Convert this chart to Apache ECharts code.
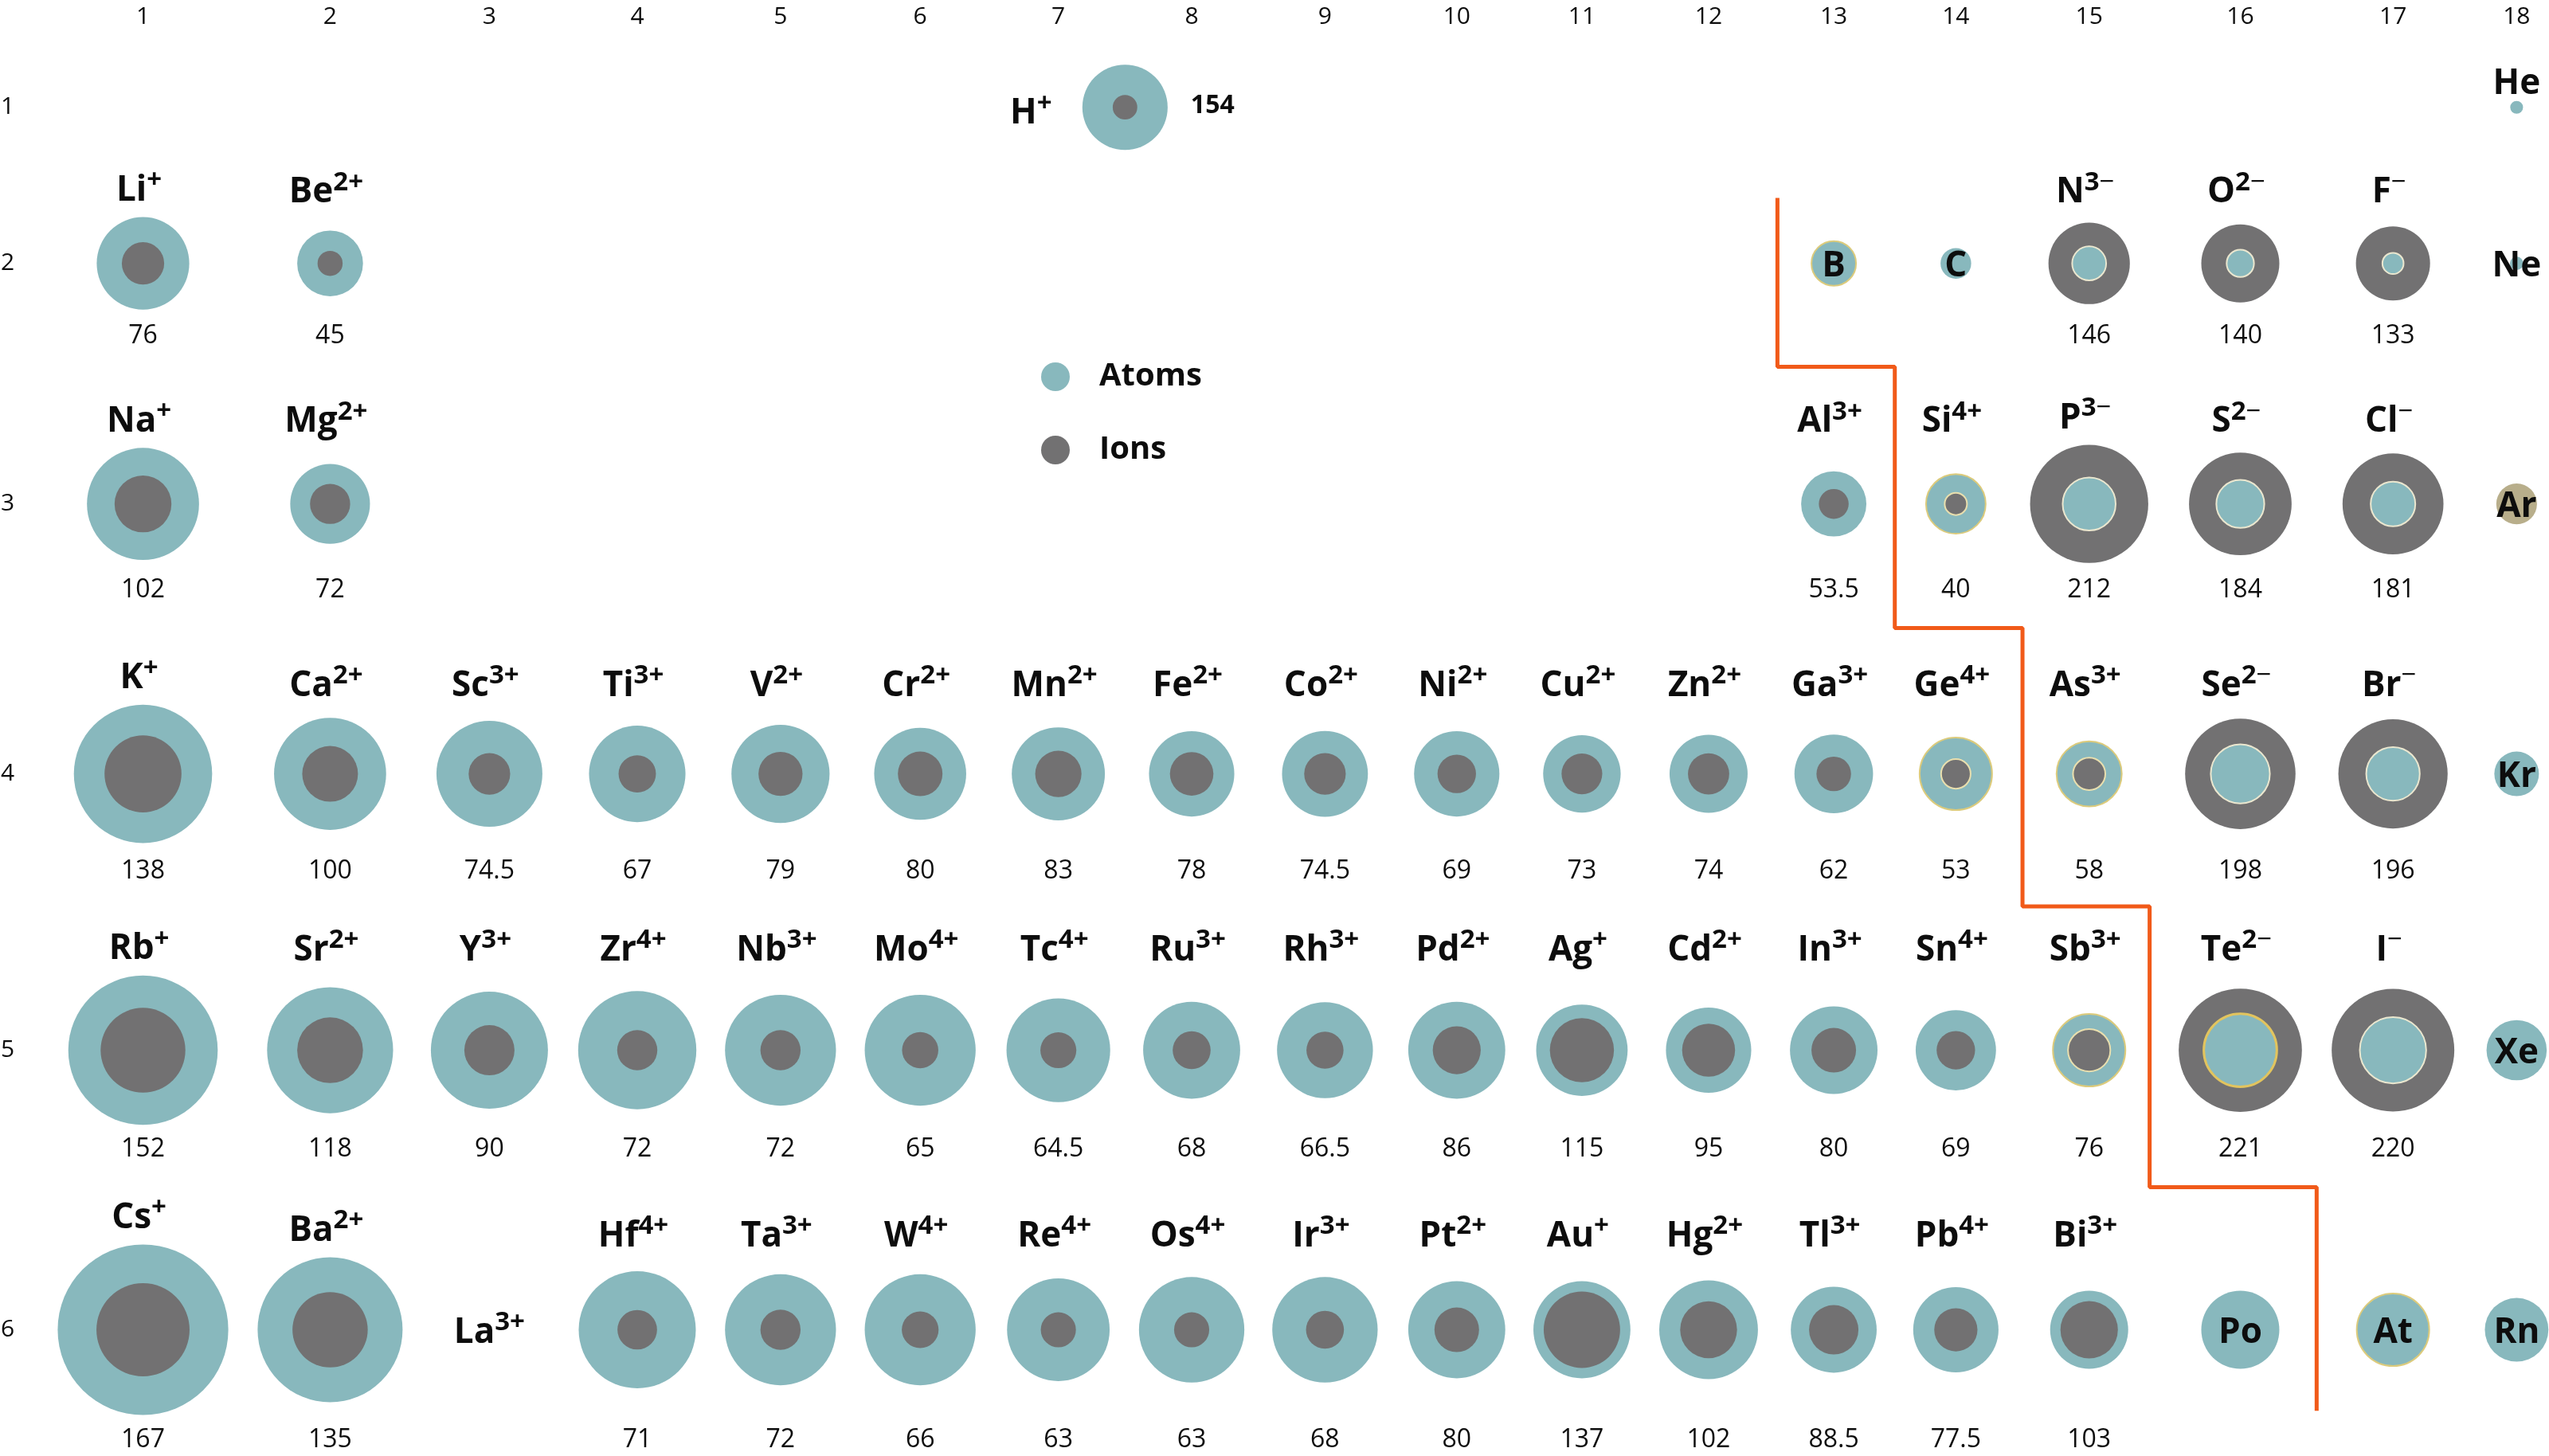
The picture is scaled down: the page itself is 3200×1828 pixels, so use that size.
<!DOCTYPE html>
<html>
<head>
<meta charset="utf-8">
<script src="https://cdn.jsdelivr.net/npm/echarts@6/dist/echarts.min.js"></script>
<style>
html,body{margin:0;padding:0;background:#ffffff;}
#chart{width:3200px;height:1828px;}
</style>
</head>
<body>
<div id="chart"></div>
<script>
// ---------- tick labels ----------
const groupTicks = ['1','2','3','4','5','6','7','8','9','10','11','12','13','14','15','16','17','18'];
const periodTicks = ['1','2','3','4','5','6'];
// axis layout: where each group / period sits along the table (percent of width / height)
const groupCenter = [5.61, 12.95, 19.20, 25.00, 30.62, 36.10, 41.52, 46.75, 51.98, 57.15, 62.06, 67.03, 71.94, 76.73, 81.96, 87.89, 93.88, 98.73];
const periodCenter = [7.37, 18.09, 34.61, 53.15, 72.13, 91.33];

// ---------- data ----------
const symbols = ['H','He',
  'Li','Be','B','C','N','O','F','Ne',
  'Na','Mg','Al','Si','P','S','Cl','Ar',
  'K','Ca','Sc','Ti','V','Cr','Mn','Fe','Co','Ni','Cu','Zn','Ga','Ge','As','Se','Br','Kr',
  'Rb','Sr','Y','Zr','Nb','Mo','Tc','Ru','Rh','Pd','Ag','Cd','In','Sn','Sb','Te','I','Xe',
  'Cs','Ba','La','Hf','Ta','W','Re','Os','Ir','Pt','Au','Hg','Tl','Pb','Bi','Po','At','Rn'];
const charges = ['+','',
  '+','2+','','','3−','2−','−','',
  '+','2+','3+','4+','3−','2−','−','',
  '+','2+','3+','3+','2+','2+','2+','2+','2+','2+','2+','2+','3+','4+','3+','2−','−','',
  '+','2+','3+','4+','3+','4+','4+','3+','3+','2+','+','2+','3+','4+','3+','2−','−','',
  '+','2+','3+','4+','3+','4+','4+','4+','3+','2+','+','2+','3+','4+','3+','','',''];
const groups = [7.5,18,
  1,2,13,14,15,16,17,18,
  1,2,13,14,15,16,17,18,
  1,2,3,4,5,6,7,8,9,10,11,12,13,14,15,16,17,18,
  1,2,3,4,5,6,7,8,9,10,11,12,13,14,15,16,17,18,
  1,2,3,4,5,6,7,8,9,10,11,12,13,14,15,16,17,18];
const periods = [1,1,
  2,2,2,2,2,2,2,2,
  3,3,3,3,3,3,3,3,
  4,4,4,4,4,4,4,4,4,4,4,4,4,4,4,4,4,4,
  5,5,5,5,5,5,5,5,5,5,5,5,5,5,5,5,5,5,
  6,6,6,6,6,6,6,6,6,6,6,6,6,6,6,6,6,6];
const atomRadius = [153,23,
  166,118,80,55,61,49,38,24,
  201,143,117,107,95,86,80,73,
  248,201,190,173,176,165,167,153,154,153,139,140,141,130,117,106,96,80,
  268,226,210,212,199,199,186,174,172,174,164,153,157,144,130,131,119,108,
  306,260,null,210,199,199,184,189,189,174,174,177,154,153,140,140,130,114];
// ion radius (pm)
const ionRadius = [44,null,
  76,45,null,null,146,140,133,null,
  102,72,53.5,40,212,184,181,null,
  138,100,74.5,67,79,80,83,78,74.5,69,73,74,62,53,58,198,196,null,
  152,118,90,72,72,65,64.5,68,66.5,86,115,95,80,69,76,221,220,null,
  167,135,null,71,72,66,63,63,68,80,137,102,88.5,77.5,103,null,null,null];
// printed value for hydrogen (shown beside its circle)
const extraValueText = {H: '154'};

// boundary (metals / non-metals staircase) in group / period units
const boundaryGroups  = [12.55,12.55,13.5,13.5,14.5,14.5,15.4,15.4,16.5,16.5];
const boundaryPeriods = [1.58, 2.43, 2.43, 3.46, 3.46, 4.48, 4.48, 5.49, 5.49, 6.29];

// ---------- style ----------
const FONT = '"Open Sans", "Noto Sans", sans-serif';
const TEAL = '#88b8bd';
const GREY = '#727172';
const INK = '#0d0d0d';
const PX_PER_PM = 0.7;            // symbol diameter per pm
const rowLabelGap = [29, 89, 103, 110, 125, 117];
const rowValueGap = [0, 91, 108, 122, 124, 138];
const atomTint = {Ar: '#b8ae8b'};
const rimAtoms = ['B','Si','Ge','As','Sb','At'];
const rimIons = ['Si','Ge','As','Sb'];

function spanPos(arr, v) {
  const n = arr.length;
  let i = Math.floor(v) - 1;
  if (i < 0) i = 0;
  if (i > n - 2) i = n - 2;
  const f = v - (i + 1);
  return arr[i] + (arr[i + 1] - arr[i]) * f;
}
const xOf = g => spanPos(groupCenter, g);
const yOf = p => spanPos(periodCenter, p);

const atomsBack = [], atomsFront = [], ions = [];
const nameLabels = [], nameMeta = [], valueLabels = [], valueMeta = [];

function richName(sym, ch) {
  let s = '{b|' + sym + '}';
  if (ch) {
    const digits = ch.replace(/[+−]/g, '');
    const sign = ch.slice(-1);
    if (digits) s += '{s|' + digits + '}';
    s += sign === '−' ? '{m|−}' : '{s|+}';
  }
  return s;
}

for (let i = 0; i < symbols.length; i++) {
  const sym = symbols[i], g = groups[i], p = periods[i];
  const a = atomRadius[i], r = ionRadius[i];
  const x = xOf(g), y = yOf(p);
  if (a != null) {
    const item = {value: [x, y, a], itemStyle: {color: atomTint[sym] || TEAL}};
    if (r != null && a < r) {
      item.itemStyle.borderColor = sym === 'Te' ? '#e2c45e' : '#ebe7cf';
      item.itemStyle.borderWidth = sym === 'Te' ? 3 : 2;
      atomsFront.push(item);
    } else {
      if (rimAtoms.includes(sym)) { item.itemStyle.borderColor = '#dccb7c'; item.itemStyle.borderWidth = 2; }
      atomsBack.push(item);
    }
  }
  if (r != null) {
    const item = {value: [x, y, r], itemStyle: {color: GREY}};
    if (rimIons.includes(sym)) { item.itemStyle.borderColor = '#e9dfae'; item.itemStyle.borderWidth = 2; }
    ions.push(item);
  }
  // symbol label
  const biggest = Math.max(a || 0, r || 0) * PX_PER_PM / 2;
  let offset;
  if (sym === 'H') offset = [-118, 8];
  else if (r == null && p > 1) offset = [0, 4];
  else if (r == null) offset = [0, -rowLabelGap[p - 1]];
  else offset = [-5, -Math.max(rowLabelGap[p - 1], biggest + 33)];
  nameLabels.push([x, y]);
  nameMeta.push({dx: offset[0], dy: offset[1], text: richName(sym, charges[i])});
  // value label
  if (extraValueText[sym]) {
    valueLabels.push([x, y]);
    valueMeta.push({dx: 110, dy: -2, text: extraValueText[sym], bold: true});
  } else if (r != null) {
    valueLabels.push([x, y]);
    valueMeta.push({dx: 0, dy: rowValueGap[p - 1], text: String(r), bold: false});
  }
}

const boundary = boundaryGroups.map((g, i) => [xOf(g), yOf(boundaryPeriods[i])]);

const richStyles = {
  b: {fontFamily: FONT, fontSize: 44, fontWeight: 'bold', fill: INK, lineHeight: 58, verticalAlign: 'middle'},
  s: {fontFamily: FONT, fontSize: 33, fontWeight: 'bold', fill: INK, lineHeight: 32, verticalAlign: 'top'},
  m: {fontFamily: FONT, fontSize: 33, fontWeight: 'normal', fill: INK, lineHeight: 16, verticalAlign: 'top'}
};

const chart = echarts.init(document.getElementById('chart'), null, {renderer: 'canvas'});
chart.setOption({
  animation: false,
  backgroundColor: '#ffffff',
  grid: {left: 0, right: 0, top: 0, bottom: 0, containLabel: false, outerBoundsMode: 'none'},
  legend: {
    data: ['Atoms', 'Ions'],
    orient: 'vertical',
    left: 1307, top: 453,
    padding: 0,
    itemWidth: 36, itemHeight: 36, itemGap: 52,
    icon: 'circle',
    selectedMode: false,
    textStyle: {fontFamily: FONT, fontSize: 40, fontWeight: 'bold', color: INK, lineHeight: 36, padding: [0, 0, 0, 32]}
  },
  xAxis: {
    type: 'value', position: 'top', min: 0, max: 100,
    axisLine: {show: false}, axisTick: {show: false}, splitLine: {show: false},
    axisLabel: {
      inside: true, margin: 6,
      customValues: groupCenter,
      formatter: v => groupTicks[groupCenter.indexOf(v)] || '',
      fontFamily: FONT, fontSize: 30, color: INK
    }
  },
  yAxis: {
    type: 'value', inverse: true, min: 0, max: 100,
    axisLine: {show: false}, axisTick: {show: false}, splitLine: {show: false},
    axisLabel: {
      inside: true, margin: 1,
      customValues: periodCenter,
      formatter: v => periodTicks[periodCenter.indexOf(v)] || '',
      fontFamily: FONT, fontSize: 30, color: INK
    }
  },
  series: [
    {
      name: 'Boundary', type: 'line', data: boundary, symbol: 'none', silent: true, z: 1,
      lineStyle: {color: '#f15a19', width: 5}
    },
    {
      name: 'Atoms', type: 'scatter', data: atomsBack, silent: true, z: 2,
      symbol: 'circle', symbolSize: v => v[2] * PX_PER_PM,
      itemStyle: {color: TEAL, opacity: 1}
    },
    {
      name: 'Ions', type: 'scatter', data: ions, silent: true, z: 3,
      symbol: 'circle', symbolSize: v => v[2] * PX_PER_PM,
      itemStyle: {color: GREY, opacity: 1}
    },
    {
      name: 'Atoms', type: 'scatter', data: atomsFront, silent: true, z: 4,
      symbol: 'circle', symbolSize: v => v[2] * PX_PER_PM,
      itemStyle: {color: TEAL, opacity: 1}
    },
    {
      name: 'names', type: 'custom', data: nameLabels, silent: true, z: 6,
      renderItem: (params, api) => {
        const m = nameMeta[params.dataIndex];
        const pt = api.coord([api.value(0), api.value(1)]);
        return {
          type: 'text', x: pt[0] + m.dx, y: pt[1] + m.dy,
          style: {text: m.text, rich: richStyles, fill: INK, align: 'center', verticalAlign: 'middle',
                  fontFamily: FONT, fontSize: 44, fontWeight: 'bold'}
        };
      }
    },
    {
      name: 'values', type: 'custom', data: valueLabels, silent: true, z: 6,
      renderItem: (params, api) => {
        const m = valueMeta[params.dataIndex];
        const pt = api.coord([api.value(0), api.value(1)]);
        return {
          type: 'text', x: pt[0] + m.dx, y: pt[1] + m.dy,
          style: {text: m.text, fill: INK, align: 'center', verticalAlign: 'middle',
                  font: (m.bold ? 'bold ' : '') + '32px ' + FONT}
        };
      }
    }
  ]
});
</script>
</body>
</html>
